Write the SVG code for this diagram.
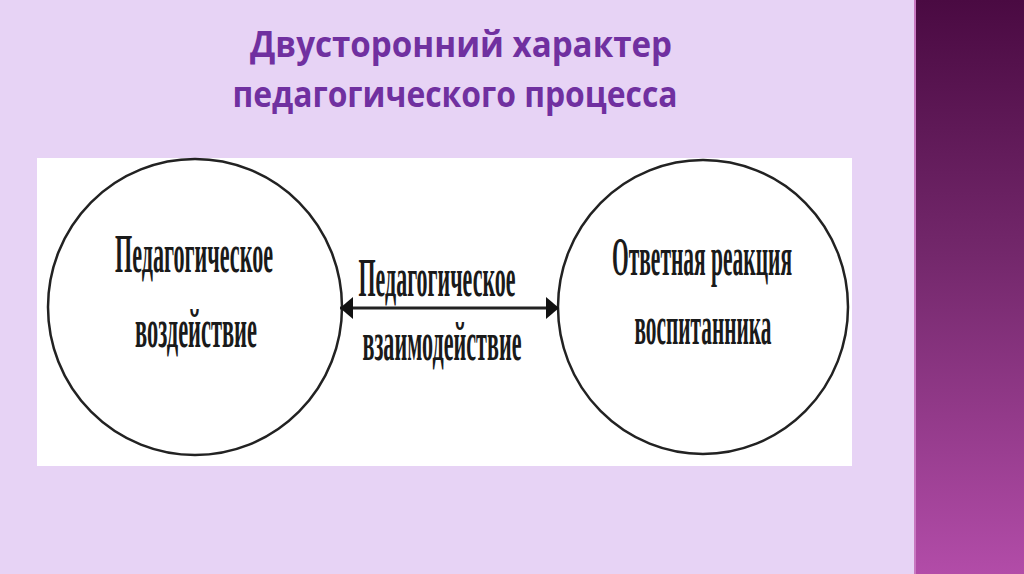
<svg xmlns="http://www.w3.org/2000/svg" width="1024" height="574" viewBox="0 0 1024 574">
<defs>
<linearGradient id="strip" x1="0" y1="0" x2="0" y2="1">
<stop offset="0" stop-color="#4a0a42"/>
<stop offset="0.45" stop-color="#74286c"/>
<stop offset="1" stop-color="#b24ca8"/>
</linearGradient>
<marker id="ah" viewBox="0 0 13 22" refX="13" refY="11" markerWidth="13" markerHeight="22" markerUnits="userSpaceOnUse" orient="auto-start-reverse">
<path d="M0,0 L13,11 L0,22 Z" fill="#111"/>
</marker>
</defs>
<style>
.title{font-family:"Open Sans","DejaVu Sans",sans-serif;font-weight:bold;font-size:36px;fill:#7030a0;text-anchor:middle}
.lbl{font-family:"Liberation Serif","DejaVu Serif",serif;font-weight:bold;font-size:55px;fill:#1a1a1a;text-anchor:middle}
.node{fill:#fff;stroke:#222;stroke-width:2.5}
</style>
<rect x="0" y="0" width="1024" height="574" fill="#e7d3f5"/>
<rect x="914" y="0" width="110" height="574" fill="url(#strip)"/>
<rect x="914" y="0" width="2" height="574" fill="#c878c0"/>
<g id="title">
<text class="title" x="461" y="57" textLength="422" lengthAdjust="spacingAndGlyphs">Двусторонний характер</text>
<text class="title" x="455" y="107" textLength="445" lengthAdjust="spacingAndGlyphs">педагогического процесса</text>
</g>
<rect x="37" y="158" width="815" height="308" fill="#fff"/>
<g id="node-left">
<ellipse class="node" cx="195" cy="307" rx="147" ry="148"/>
<text class="lbl" x="194" y="272" textLength="158" lengthAdjust="spacingAndGlyphs">Педагогическое</text>
<text class="lbl" x="196" y="347" textLength="122" lengthAdjust="spacingAndGlyphs">воздействие</text>
</g>
<g id="node-right">
<ellipse class="node" cx="703" cy="307" rx="145" ry="147"/>
<text class="lbl" x="702" y="275" textLength="180" lengthAdjust="spacingAndGlyphs">Ответная реакция</text>
<text class="lbl" x="703" y="344" textLength="137" lengthAdjust="spacingAndGlyphs">воспитанника</text>
</g>
<g id="connectors">
<line x1="340" y1="308" x2="559" y2="308" stroke="#222" stroke-width="3" marker-start="url(#ah)" marker-end="url(#ah)"/>
<text class="lbl" x="437" y="296" textLength="157" lengthAdjust="spacingAndGlyphs">Педагогическое</text>
<text class="lbl" x="442" y="360" textLength="159" lengthAdjust="spacingAndGlyphs">взаимодействие</text>
</g>
</svg>
